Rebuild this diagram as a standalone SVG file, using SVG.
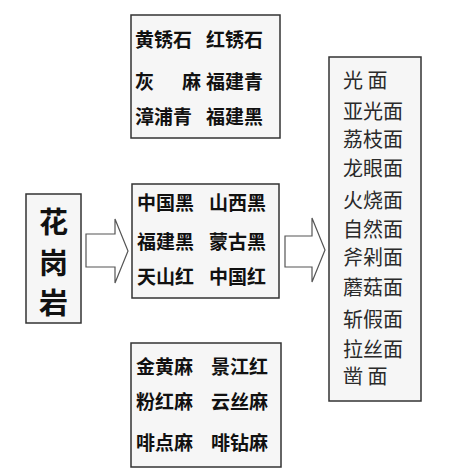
<svg xmlns="http://www.w3.org/2000/svg" width="456" height="476" viewBox="0 0 456 476">
<style>
.box{fill:#f6f6f6;stroke:#333;stroke-width:1.5}
.b{font-family:"Noto Sans CJK SC",sans-serif;font-weight:bold;font-size:19px;fill:#111}
.big{font-family:"Noto Sans CJK SC",sans-serif;font-weight:bold;font-size:29px;fill:#111;text-anchor:middle}
.r{font-family:"Noto Sans CJK SC",sans-serif;font-size:20px;fill:#2a2a2a}
.arr{fill:#fff;stroke:#555;stroke-width:1.2}
</style>
<rect width="456" height="476" fill="#fff"/>
<g id="granite">
<rect class="box" x="26" y="194" width="55" height="129"/>
<text class="big" x="53.5" y="233">花</text>
<text class="big" x="53.5" y="274">岗</text>
<text class="big" x="53.5" y="314">岩</text>
</g>
<g id="top">
<rect class="box" x="131" y="15" width="149" height="123"/>
<text class="b" x="135" y="47">黄锈石</text>
<text class="b" x="206" y="47">红锈石</text>
<text class="b" x="135" y="89">灰</text>
<text class="b" x="182" y="89">麻</text>
<text class="b" x="206" y="89">福建青</text>
<text class="b" x="135" y="124">漳浦青</text>
<text class="b" x="206" y="124">福建黑</text>
</g>
<g id="middle">
<rect class="box" x="132" y="184" width="147" height="114"/>
<text class="b" x="137" y="210">中国黑</text>
<text class="b" x="209" y="210">山西黑</text>
<text class="b" x="137" y="249">福建黑</text>
<text class="b" x="209" y="249">蒙古黑</text>
<text class="b" x="137" y="284">天山红</text>
<text class="b" x="209" y="284">中国红</text>
</g>
<g id="bottom">
<rect class="box" x="131" y="343" width="150" height="124"/>
<text class="b" x="136" y="374">金黄麻</text>
<text class="b" x="211" y="374">景江红</text>
<text class="b" x="136" y="409">粉红麻</text>
<text class="b" x="211" y="409">云丝麻</text>
<text class="b" x="136" y="450">啡点麻</text>
<text class="b" x="211" y="450">啡钻麻</text>
</g>
<g id="finishes">
<rect class="box" x="329" y="57" width="92" height="344"/>
<text class="r" x="343" y="88">光 面</text>
<text class="r" x="343" y="119">亚光面</text>
<text class="r" x="343" y="147">荔枝面</text>
<text class="r" x="343" y="176">龙眼面</text>
<text class="r" x="343" y="208">火烧面</text>
<text class="r" x="343" y="237">自然面</text>
<text class="r" x="343" y="265">斧剁面</text>
<text class="r" x="343" y="295">蘑菇面</text>
<text class="r" x="343" y="327">斩假面</text>
<text class="r" x="343" y="357">拉丝面</text>
<text class="r" x="343" y="384">凿 面</text>
</g>
<g id="connectors">
<path class="arr" d="M86,234 H115 V219 L128,251 L115,283 V267 H86 Z"/>
<path class="arr" d="M285,236 H312 V218 L325,250 L312,282 V267 H285 Z"/>
</g>
</svg>
